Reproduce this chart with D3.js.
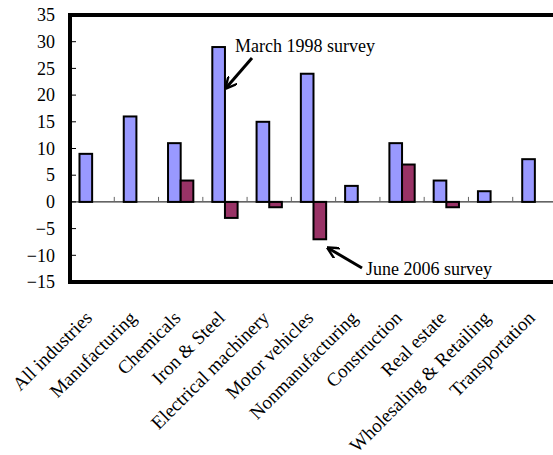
<!DOCTYPE html>
<html>
<head>
<meta charset="utf-8">
<script src="https://cdn.jsdelivr.net/npm/d3@7"></script>
<style>
  html, body { margin: 0; padding: 0; background: #fff; }
  svg { display: block; }
  text { font-family: "Liberation Serif", "Times New Roman", serif; fill: #000; }
</style>
</head>
<body>
<script>
// Survey results by industry
const categories = ["All industries", "Manufacturing", "Chemicals", "Iron & Steel",
  "Electrical machinery", "Motor vehicles", "Nonmanufacturing", "Construction",
  "Real estate", "Wholesaling & Retailing", "Transportation"];
const march1998 = [9, 16, 11, 29, 15, 24, 3, 11, 4, 2, 8];
const june2006 = [0, 0, 4, -3, -1, -7, 0, 7, -1, 0, 0];
const yTicks = [-15, -10, -5, 0, 5, 10, 15, 20, 25, 30, 35];
const seriesNames = ["March 1998 survey", "June 2006 survey"];
const seriesColors = ["#9999FF", "#993366"];

const W = 553, H = 455;
const plot = { left: 70, right: 557, top: 15, bottom: 282 };

const svg = d3.select("body").append("svg").attr("width", W).attr("height", H);

const y = d3.scaleLinear().domain([-15, 35]).range([plot.bottom, plot.top]);
const x = d3.scaleBand().domain(categories).range([plot.left, plot.right]);
const bw = x.bandwidth() / 3.5;
const xs = d3.scaleBand().domain([0, 1]).range([0, 2 * bw]);

// y axis labels and inward ticks
const yAxis = d3.axisLeft(y).tickValues(yTicks).tickSize(0).tickPadding(15).tickFormat(d3.format("d"));
const ya = svg.append("g").attr("transform", `translate(${plot.left},0)`).call(yAxis);
ya.select(".domain").remove();
ya.selectAll("text").style("font-size", "18px").attr("fill", "#000");
svg.append("g").selectAll("line").data(yTicks).join("line")
  .attr("x1", plot.left).attr("x2", plot.left + 6)
  .attr("y1", d => y(d)).attr("y2", d => y(d))
  .attr("stroke", "#000").attr("stroke-width", 1);

// bars
const rows = categories.map((c, i) => [march1998[i], june2006[i]]);
const groups = svg.append("g").selectAll("g").data(rows).join("g")
  .attr("transform", (d, i) => `translate(${x(categories[i]) + x.bandwidth() / 2 - bw},0)`);
groups.selectAll("rect").data(d => d.map((v, k) => ({ v, k }))).join("rect")
  .filter(d => d.v !== 0)
  .attr("x", d => xs(d.k))
  .attr("width", xs.bandwidth())
  .attr("y", d => Math.min(y(d.v), y(0)))
  .attr("height", d => Math.abs(y(d.v) - y(0)))
  .attr("fill", d => seriesColors[d.k])
  .attr("stroke", "#000").attr("stroke-width", 2);

// zero line with category tick marks
svg.append("line").attr("x1", plot.left).attr("x2", W)
  .attr("y1", y(0)).attr("y2", y(0)).attr("stroke", "#000").attr("stroke-width", 1);
svg.append("g").selectAll("line").data(categories.slice(1)).join("line")
  .attr("x1", d => x(d)).attr("x2", d => x(d))
  .attr("y1", y(0) - 5).attr("y2", y(0))
  .attr("stroke", "#666").attr("stroke-width", 1);

// frame
svg.append("line").attr("x1", plot.left - 2).attr("x2", W)
  .attr("y1", plot.top).attr("y2", plot.top).attr("stroke", "#000").attr("stroke-width", 4);
svg.append("line").attr("x1", plot.left - 2).attr("x2", W)
  .attr("y1", plot.bottom).attr("y2", plot.bottom).attr("stroke", "#000").attr("stroke-width", 4);
svg.append("line").attr("x1", plot.left).attr("x2", plot.left)
  .attr("y1", plot.top - 2).attr("y2", plot.bottom + 2).attr("stroke", "#000").attr("stroke-width", 4);

// rotated category labels
svg.append("g").selectAll("text").data(categories).join("text")
  .attr("transform", d => `translate(${x(d) + x.bandwidth() / 2 + 1},${plot.bottom + 37}) rotate(-45)`)
  .attr("text-anchor", "end")
  .style("font-size", "19px")
  .text(d => d);

// annotations
const defs = svg.append("defs");
defs.append("marker").attr("id", "head").attr("viewBox", "0 0 10 10")
  .attr("refX", 9).attr("refY", 5).attr("markerWidth", 4).attr("markerHeight", 4)
  .attr("orient", "auto")
  .append("path").attr("d", "M0,0 L10,5 L0,10").attr("fill", "none").attr("stroke", "#000").attr("stroke-width", 2);

function note(label, tx, ty, from, to) {
  svg.append("text").attr("x", tx).attr("y", ty).style("font-size", "18px").text(label);
  svg.append("line").attr("x1", from[0]).attr("y1", from[1]).attr("x2", to[0]).attr("y2", to[1])
    .attr("stroke", "#000").attr("stroke-width", 3).attr("marker-end", "url(#head)");
}
note(seriesNames[0], 235, 52, [252, 58], [226, 88]);
note(seriesNames[1], 366, 275, [362, 268], [328, 248]);
</script>
</body>
</html>
